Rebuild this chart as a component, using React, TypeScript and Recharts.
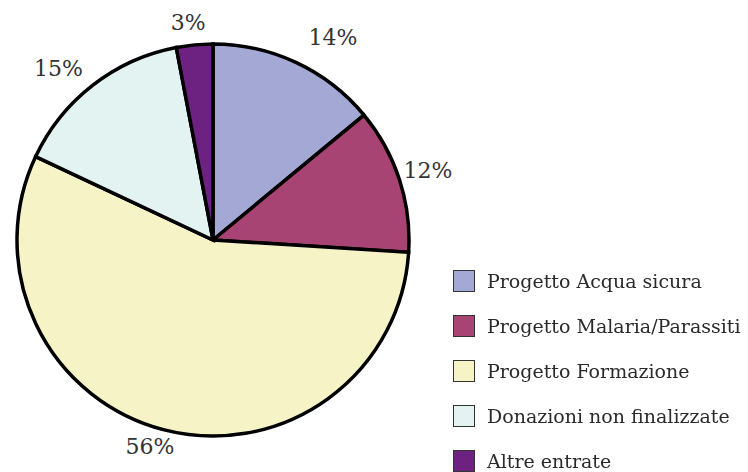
import React from 'react';
import { PieChart, Pie, Cell, Legend } from 'recharts';

const categories = [
  'Progetto Acqua sicura',
  'Progetto Malaria/Parassiti',
  'Progetto Formazione',
  'Donazioni non finalizzate',
  'Altre entrate',
];
const percentages = [14, 12, 56, 15, 3];
const colors = ['#a4a8d4', '#a84474', '#f6f3c7', '#e2f3f2', '#6d2180'];

const data = categories.map((name, i) => ({ name, value: percentages[i] }));

// label placement tweaks: [angle shift in degrees, distance from centre]
const labelPlacement = [
  [-5.5, 235],
  [0, 226],
  [-2.6, 216],
  [4.2, 231],
  [1.1, 219],
];

const FONT = '"DejaVu Serif", "Liberation Serif", serif';
const RAD = Math.PI / 180;

const renderLabel = (props: any) => {
  const { cx, cy, midAngle, value, index } = props;
  const [dA, r] = labelPlacement[index];
  const a = midAngle + dA;
  const x = cx + r * Math.cos(-a * RAD);
  const y = cy + r * Math.sin(-a * RAD);
  return (
    <text
      x={x}
      y={y}
      textAnchor="middle"
      dominantBaseline="central"
      fill="#333"
      fontSize={22}
      fontFamily={FONT}
    >
      {`${value}%`}
    </text>
  );
};

const LegendBox = () => (
  <div style={{ fontFamily: FONT, fontSize: 19, color: '#2a2a2a' }}>
    {categories.map((name, i) => (
      <div key={name} style={{ display: 'flex', alignItems: 'center', height: 45 }}>
        <span
          style={{
            display: 'inline-block',
            width: 22,
            height: 22,
            background: colors[i],
            border: '1.5px solid #333',
            boxSizing: 'border-box',
            marginRight: 12,
          }}
        />
        <span style={{ whiteSpace: 'nowrap' }}>{name}</span>
      </div>
    ))}
  </div>
);

export default function App() {
  return (
    <div style={{ position: 'fixed', top: 0, left: 0, width: 748, height: 472, background: '#fff' }}>
      <PieChart width={748} height={472} margin={{ top: 0, right: 0, bottom: 0, left: 0 }}>
        <Pie
          data={data}
          dataKey="value"
          cx={213}
          cy={240}
          outerRadius={196}
          startAngle={90}
          endAngle={-270}
          stroke="#000"
          strokeWidth={3.5}
          label={renderLabel}
          labelLine={false}
          isAnimationActive={false}
        >
          {data.map((d, i) => (
            <Cell key={d.name} fill={colors[i]} />
          ))}
        </Pie>
        <Legend
          content={<LegendBox />}
          wrapperStyle={{ left: 453, top: 258, width: 300 }}
        />
      </PieChart>
    </div>
  );
}
